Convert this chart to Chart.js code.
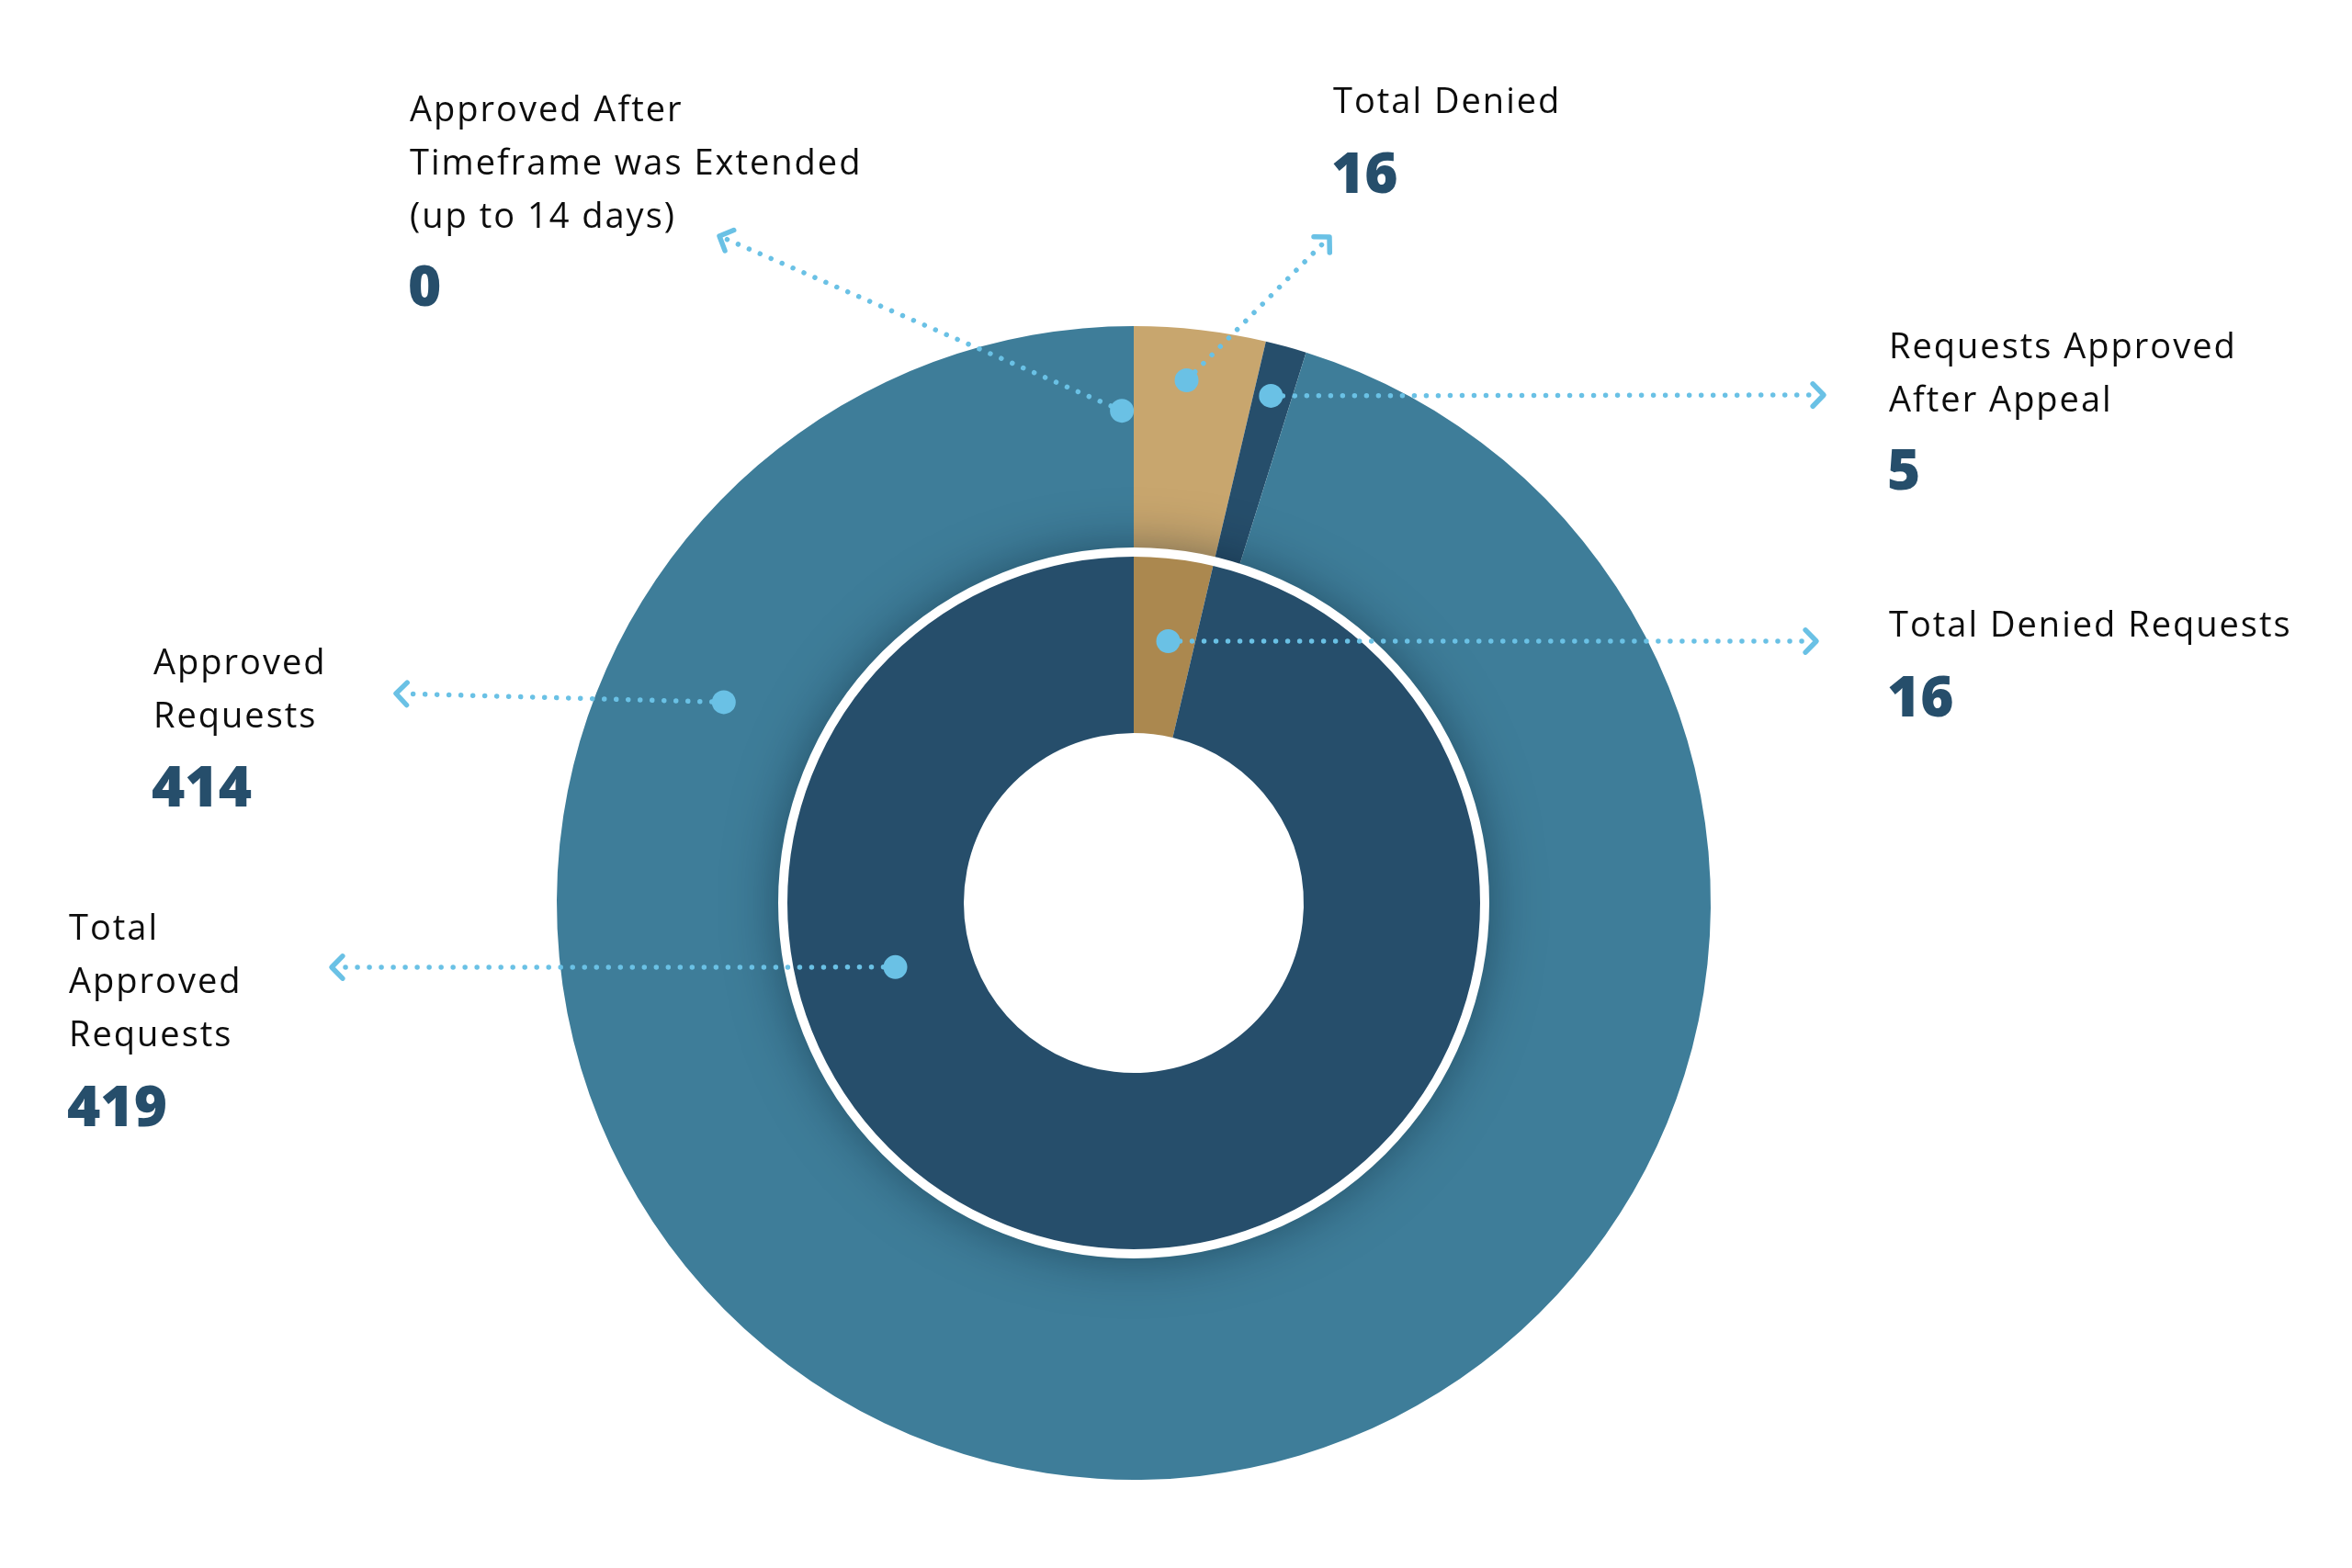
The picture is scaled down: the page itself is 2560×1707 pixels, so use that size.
<!DOCTYPE html>
<html>
<head>
<meta charset="utf-8">
<script src="https://cdn.jsdelivr.net/npm/chart.js@4.4.1/dist/chart.umd.min.js"></script>
<style>
  html, body { margin: 0; padding: 0; background: #fff; }
  #wrap { width: 2560px; height: 1707px; position: relative; }
</style>
</head>
<body>
<div id="wrap"><canvas id="chart"></canvas></div>
<script>
// outer ring (dataset 0), clockwise from 12 o'clock
const outerLabels = ["Total Denied", "Requests Approved After Appeal", "Approved Requests", "Approved After Timeframe was Extended (up to 14 days)"];
const outerValues = [16, 5, 414, 0];
const outerColors = ["#c8a66e", "#264e6b", "#3e7d99", "#3e7d99"];

// inner ring (dataset 1)
const innerLabels = ["Total Denied Requests", "Total Approved Requests"];
const innerValues = [16, 419];
const innerColors = ["#ab884f", "#264e6b"];

const LABEL_COLOR = "#0d0d0d";
const NUMBER_COLOR = "#264e6b";
const LEADER_COLOR = "#6ac1e5";

// callouts: which arc, where on it the dot sits, where the arrow ends and where the text goes
const callouts = [
  { ds: 0, i: 3, t: 1, rf: 0.626, nudge: -0.024, tip: [783, 257], lines: ["Approved After", "Timeframe was Extended", "(up to 14 days)"], x: 446, y: 132, numY: 333 },
  { ds: 0, i: 0, t: 0.436, rf: 0.772, tip: [1447, 258], lines: ["Total Denied"], x: 1451, y: 123, numY: 210 },
  { ds: 0, i: 1, t: 0.457, rf: 0.772, tip: [1985, 430], lines: ["Requests Approved", "After Appeal"], x: 2056, y: 390, numY: 533 },
  { ds: 1, i: 0, t: 0.566, rf: 0.52, tip: [1977, 698], lines: ["Total Denied Requests"], x: 2056, y: 693, numY: 780 },
  { ds: 0, i: 2, t: 0.8135, rf: 0.467, tip: [431, 755], lines: ["Approved", "Requests"], x: 167, y: 734, numY: 878 },
  { ds: 1, i: 1, t: 0.697, rf: 0.425, tip: [361, 1053], lines: ["Total", "Approved", "Requests"], x: 75, y: 1023, numY: 1226 },
];

// soft shadow + white separator between the two rings
const ringSeparator = {
  id: "ringSeparator",
  afterDatasetsDraw(chart) {
    const outerArc = chart.getDatasetMeta(0).data[0];
    const { ctx } = chart;
    const cx = outerArc.x, cy = outerArc.y;
    const r = outerArc.innerRadius;
    const R = outerArc.outerRadius;

    ctx.save();
    ctx.beginPath();
    ctx.arc(cx, cy, R, 0, Math.PI * 2);
    ctx.arc(cx, cy, r, 0, Math.PI * 2, true);
    ctx.clip();
    ctx.shadowColor = "rgba(0, 20, 35, 0.5)";
    ctx.shadowBlur = 60;
    ctx.fillStyle = "#000";
    ctx.beginPath();
    ctx.arc(cx, cy, r, 0, Math.PI * 2);
    ctx.fill();
    ctx.restore();

    ctx.save();
    ctx.strokeStyle = "#fff";
    ctx.lineWidth = 10;
    ctx.beginPath();
    ctx.arc(cx, cy, r, 0, Math.PI * 2);
    ctx.stroke();
    ctx.restore();
  },
};

function drawArrowHead(ctx, x, y, angle, size) {
  ctx.beginPath();
  ctx.moveTo(x - size * Math.cos(angle - 0.8), y - size * Math.sin(angle - 0.8));
  ctx.lineTo(x, y);
  ctx.lineTo(x - size * Math.cos(angle + 0.8), y - size * Math.sin(angle + 0.8));
  ctx.stroke();
}

const calloutPlugin = {
  id: "callouts",
  afterDraw(chart) {
    const { ctx } = chart;
    const datasets = chart.data.datasets;
    callouts.forEach((c) => {
      const arc = chart.getDatasetMeta(c.ds).data[c.i];
      const a = arc.startAngle + c.t * (arc.endAngle - arc.startAngle) + (c.nudge || 0);
      const r = arc.innerRadius + c.rf * (arc.outerRadius - arc.innerRadius);
      const px = arc.x + r * Math.cos(a);
      const py = arc.y + r * Math.sin(a);
      const [tx, ty] = c.tip;
      const dir = Math.atan2(ty - py, tx - px);

      // dotted leader
      ctx.save();
      ctx.strokeStyle = LEADER_COLOR;
      ctx.lineCap = "round";
      ctx.lineWidth = 5.5;
      ctx.setLineDash([0.01, 13]);
      ctx.beginPath();
      ctx.moveTo(px, py);
      ctx.lineTo(tx - 6 * Math.cos(dir), ty - 6 * Math.sin(dir));
      ctx.stroke();
      ctx.setLineDash([]);
      ctx.lineWidth = 5.5;
      ctx.lineJoin = "round";
      drawArrowHead(ctx, tx, ty, dir, 17);

      // dot
      ctx.fillStyle = LEADER_COLOR;
      ctx.beginPath();
      ctx.arc(px, py, 13, 0, Math.PI * 2);
      ctx.fill();
      ctx.restore();

      // text
      ctx.save();
      ctx.textAlign = "left";
      ctx.textBaseline = "alphabetic";
      ctx.fillStyle = LABEL_COLOR;
      ctx.font = '400 38px "Open Sans"';
      ctx.letterSpacing = "2px";
      c.lines.forEach((line, k) => {
        ctx.fillText(line, c.x, c.y + k * 58);
      });
      ctx.fillStyle = NUMBER_COLOR;
      ctx.font = '800 62px "Open Sans"';
      ctx.letterSpacing = "0px";
      ctx.fillText(String(datasets[c.ds].data[c.i]), c.x - 2, c.numY);
      ctx.restore();
    });
  },
};

new Chart(document.getElementById("chart"), {
  type: "doughnut",
  data: {
    labels: outerLabels,
    datasets: [
      {
        label: "Requests",
        data: outerValues,
        backgroundColor: outerColors,
        borderWidth: 0,
        weight: 246,
      },
      {
        label: "Totals",
        labels: innerLabels,
        data: innerValues,
        backgroundColor: innerColors,
        borderWidth: 0,
        weight: 197,
      },
    ],
  },
  options: {
    responsive: true,
    maintainAspectRatio: false,
    animation: false,
    events: [],
    cutout: 185,
    layout: {
      padding: { left: 606, right: 698, top: 355, bottom: 96 },
    },
    plugins: {
      legend: { display: false },
      tooltip: { enabled: false },
    },
  },
  plugins: [ringSeparator, calloutPlugin],
});
</script>
</body>
</html>
